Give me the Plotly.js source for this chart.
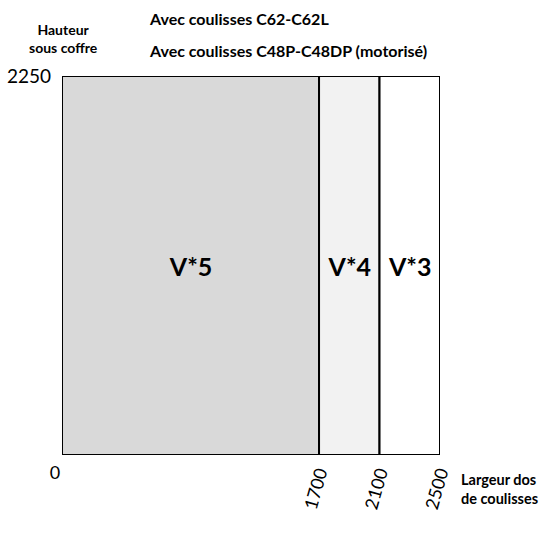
<!DOCTYPE html>
<html><head><meta charset="utf-8">
<script src="https://cdn.plot.ly/plotly-3.0.1.min.js"></script>
<style>body{margin:0;background:#fff}#c{width:541px;height:536px}</style>
</head><body><div id="c"></div>
<script>
const bounds = [0, 1700, 2100, 2500];
const heights = [2250, 2250, 2250];
const zoneLabels = ["V*5", "V*4", "V*3"];
const zoneColors = ["#d9d9d9", "#f2f2f2", "#ffffff"];
const yTicks = [2250];
const titleLines = ["Avec coulisses C62-C62L", "Avec coulisses C48P-C48DP (motorisé)"];
const yTitle = "Hauteur<br>sous coffre";
const xTitle = "Largeur dos<br>de coulisses";

const centers = [], widths = [];
for (let i = 0; i < bounds.length - 1; i++) {
  centers.push((bounds[i] + bounds[i+1]) / 2);
  widths.push(bounds[i+1] - bounds[i]);
}
const FONT = "Lato, Open Sans, sans-serif";
const trace = {
  type: "bar", x: centers, y: heights, width: widths,
  marker: {color: zoneColors, line: {color: "#000", width: 2}},
  text: zoneLabels, textposition: "inside", insidetextanchor: "middle",
  textfont: {family: FONT, size: 25, color: "#000", weight: "bold"},
  hoverinfo: "none", showlegend: false
};
const ghost = {type: "scatter", x: [bounds[1]], y: [0], xaxis: "x2", mode: "markers",
  marker: {opacity: 0}, showlegend: false, hoverinfo: "none"};
const layout = {
  width: 541, height: 536,
  margin: {l: 62, r: 101, t: 76, b: 81},
  paper_bgcolor: "#fff", plot_bgcolor: "#fff",
  bargap: 0,
  xaxis: {range: [bounds[0], bounds[bounds.length-1]], tickvals: [bounds[0]], ticktext: [String(bounds[0])],
    showgrid: false, zeroline: false, showline: false, ticks: "", tickangle: 0,
    ticklabelstandoff: 5, ticklabelshift: -7,
    tickfont: {family: FONT, size: 18, color: "#000"}, fixedrange: true},
  xaxis2: {overlaying: "x", range: [bounds[0], bounds[bounds.length-1]], tickvals: bounds.slice(1),
    ticktext: bounds.slice(1).map(String), tickangle: -74, side: "bottom",
    showgrid: false, zeroline: false, showline: false, ticks: "", ticklabelstandoff: 3,
    tickfont: {family: FONT, size: 18, color: "#000"}, fixedrange: true},
  yaxis: {range: [0, heights[0]], tickvals: yTicks, ticktext: yTicks.map(String),
    showgrid: false, zeroline: false, showline: false, ticks: "", ticklabelstandoff: 10,
    tickfont: {family: FONT, size: 19, color: "#000"}, fixedrange: true},
  annotations: [
    {text: titleLines[0], xref: "paper", yref: "paper", x: 0.226, y: 1.152, xanchor: "left", yanchor: "middle",
     showarrow: false, font: {family: FONT, size: 16, color: "#000", weight: "bold"}},
    {text: titleLines[1], xref: "paper", yref: "paper", x: 0.226, y: 1.068, xanchor: "left", yanchor: "middle",
     showarrow: false, font: {family: FONT, size: 16, color: "#000", weight: "bold"}},
    {text: yTitle, xref: "paper", yref: "paper", x: 0.005, y: 1.1, xanchor: "center", yanchor: "middle",
     showarrow: false, align: "center", font: {family: FONT, size: 14, color: "#000", weight: "bold"}},
    {text: xTitle, xref: "paper", yref: "paper", x: 1.05, y: -0.09, xanchor: "left", yanchor: "middle",
     showarrow: false, align: "left", font: {family: FONT, size: 14.5, color: "#000", weight: "bold"}}
  ]
};
Plotly.newPlot("c", [trace, ghost], layout, {displayModeBar: false, staticPlot: true});
</script></body></html>
